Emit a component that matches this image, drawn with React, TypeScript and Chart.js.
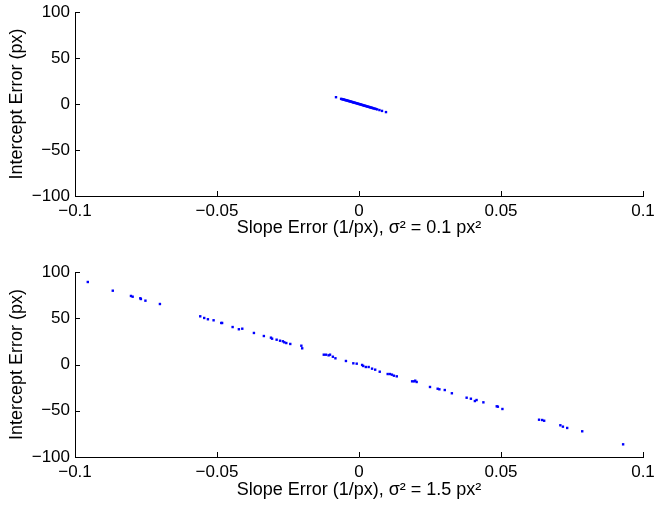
import React, { useEffect, useRef } from "react";
import { Chart, registerables } from "chart.js";

Chart.register(...registerables);

const xTicks = [-0.1, -0.05, 0, 0.05, 0.1];
const yTicks = [-100, -50, 0, 50, 100];

const topSlope = [-0.0081, -0.0063, -0.006, -0.0057, -0.0054, -0.0051, -0.0048, -0.0046, -0.0043, -0.004, -0.0037, -0.0035, -0.0032, -0.0029, -0.0026, -0.0023, -0.0021, -0.0018, -0.0015, -0.0012, -0.0009, -0.0006, -0.0003, 0.0, 0.0003, 0.0006, 0.0009, 0.0012, 0.0015, 0.0018, 0.0021, 0.0024, 0.0027, 0.003, 0.0033, 0.0036, 0.0039, 0.0042, 0.0045, 0.0048, 0.0051, 0.0055, 0.0059, 0.0064, 0.0072, 0.0081, 0.0095];
const topIntercept = [7.4, 5.6, 5.3, 5.0, 4.9, 4.6, 4.3, 4.1, 3.9, 3.6, 3.4, 3.1, 2.9, 2.6, 2.4, 2.1, 1.8, 1.6, 1.4, 1.1, 0.8, 0.6, 0.3, 0.0, -0.3, -0.5, -0.8, -1.1, -1.4, -1.7, -1.9, -2.2, -2.5, -2.8, -3.0, -3.3, -3.6, -3.9, -4.1, -4.4, -4.7, -5.0, -5.4, -5.8, -6.6, -7.5, -8.8];

const bottomSlope = [-0.0955, -0.0867, -0.0803, -0.0797, -0.077, -0.0768, -0.0752, -0.0701, -0.0559, -0.0545, -0.0532, -0.0512, -0.0485, -0.0482, -0.0445, -0.0423, -0.0411, -0.037, -0.0335, -0.031, -0.0306, -0.029, -0.0278, -0.0268, -0.0263, -0.0256, -0.0242, -0.0203, -0.02, -0.0124, -0.0116, -0.0107, -0.0102, -0.0092, -0.0083, -0.0046, -0.002, -0.0008, 0.0011, 0.0015, 0.0024, 0.0034, 0.0046, 0.0057, 0.0073, 0.0101, 0.0109, 0.0116, 0.0123, 0.0133, 0.0187, 0.0194, 0.0198, 0.0203, 0.025, 0.0277, 0.0283, 0.0302, 0.0327, 0.0379, 0.0394, 0.0408, 0.0414, 0.0438, 0.0485, 0.0489, 0.0505, 0.0634, 0.0645, 0.0652, 0.0709, 0.0718, 0.0733, 0.0786, 0.093];
const bottomIntercept = [89.2, 79.8, 74.1, 73.3, 71.6, 70.8, 69.0, 65.4, 52.1, 50.3, 48.9, 47.8, 44.9, 44.9, 40.5, 38.1, 38.7, 34.1, 30.8, 29.0, 27.9, 26.8, 25.7, 25.1, 24.0, 23.2, 22.2, 20.3, 17.5, 10.6, 10.6, 9.9, 10.6, 8.4, 6.7, 3.8, 1.3, 0.9, -0.5, -1.6, -2.7, -2.7, -4.5, -5.6, -7.8, -10.3, -10.3, -11.0, -12.1, -12.8, -18.2, -18.2, -17.5, -18.9, -24.3, -26.2, -26.8, -27.6, -31.1, -35.9, -37.0, -39.5, -38.4, -40.9, -45.2, -45.6, -48.1, -59.7, -60.0, -60.8, -65.7, -67.2, -68.6, -72.2, -86.3];

const yTitle = "Intercept Error (px)";
const topXTitle = "Slope Error (1/px), σ² = 0.1 px²";
const bottomXTitle = "Slope Error (1/px), σ² = 1.5 px²";

const FONT = "'Liberation Sans', Arial, Helvetica, sans-serif";
const TICK_SIZE = 17;
const TITLE_SIZE = 18;

function fmtX(v: number) {
  const r = Math.round(v * 100) / 100;
  if (r === 0) return "0";
  const s = String(Math.abs(r));
  return r < 0 ? "\u2212" + s : s;
}
function fmtY(v: number) {
  const r = Math.round(v);
  if (r === 0) return "0";
  return r < 0 ? "\u2212" + Math.abs(r) : String(r);
}

const inwardTicks = {
  id: "inwardTicks",
  afterDraw(chart: any) {
    const ctx = chart.ctx;
    const xs = chart.scales.x;
    const ys = chart.scales.y;
    const area = chart.chartArea;
    ctx.save();
    ctx.strokeStyle = "#000";
    ctx.lineWidth = 1;
    ctx.beginPath();
    xs.ticks.forEach((t: any) => {
      const px = Math.round(xs.getPixelForValue(t.value)) + 0.5;
      ctx.moveTo(px, area.bottom);
      ctx.lineTo(px, area.bottom - 5);
    });
    ys.ticks.forEach((t: any) => {
      const py = Math.round(ys.getPixelForValue(t.value)) + 0.5;
      ctx.moveTo(area.left, py);
      ctx.lineTo(area.left + 5, py);
    });
    ctx.stroke();
    ctx.restore();
  },
};

function makeConfig(xsArr: number[], ysArr: number[], xTitle: string, padTop: number, xAxisHeight: number, titlePadBottom: number) {
  const data = xsArr.map((x, i) => ({ x, y: ysArr[i] }));
  return {
    type: "scatter" as const,
    data: {
      datasets: [
        {
          data,
          backgroundColor: "#0000ff",
          borderWidth: 0,
          pointStyle: "rect",
          pointRadius: 1.7,
        },
      ],
    },
    plugins: [inwardTicks],
    options: {
      animation: false,
      responsive: false,
      events: [],
      layout: { padding: { top: padTop, left: 0, right: 11, bottom: 0 } },
      plugins: { legend: { display: false }, tooltip: { enabled: false } },
      scales: {
        x: {
          type: "linear",
          min: -0.1,
          max: 0.1,
          afterBuildTicks: (s: any) => {
            s.ticks = xTicks.map((v) => ({ value: v }));
          },
          afterFit: (s: any) => {
            s.height = xAxisHeight;
            s.paddingLeft = 0;
            s.paddingRight = 0;
          },
          grid: { display: true, drawOnChartArea: false, drawTicks: false },
          border: { display: true, color: "#000", width: 1 },
          ticks: {
            color: "#000",
            padding: 5,
            maxRotation: 0,
            autoSkip: false,
            font: { family: FONT, size: TICK_SIZE },
            callback: (v: any) => fmtX(Number(v)),
          },
          title: {
            display: true,
            text: xTitle,
            color: "#000",
            font: { family: FONT, size: TITLE_SIZE },
            padding: { top: 0, bottom: titlePadBottom },
          },
        },
        y: {
          type: "linear",
          min: -100,
          max: 100,
          afterBuildTicks: (s: any) => {
            s.ticks = yTicks.map((v) => ({ value: v }));
          },
          afterFit: (s: any) => {
            s.width = 75;
            s.paddingTop = 0;
            s.paddingBottom = 0;
          },
          grid: { display: true, drawOnChartArea: false, drawTicks: false },
          border: { display: true, color: "#000", width: 1 },
          ticks: {
            color: "#000",
            padding: 5,
            autoSkip: false,
            font: { family: FONT, size: TICK_SIZE },
            callback: (v: any) => fmtY(Number(v)),
          },
          title: {
            display: true,
            text: yTitle,
            color: "#000",
            font: { family: FONT, size: TITLE_SIZE },
            padding: { top: 6, bottom: 0 },
          },
        },
      },
    },
  };
}

function Panel(props: { cfg: any; top: number }) {
  const ref = useRef<HTMLCanvasElement | null>(null);
  useEffect(() => {
    if (!ref.current) return;
    const chart = new Chart(ref.current, props.cfg);
    return () => chart.destroy();
  }, []);
  return (
    <canvas
      ref={ref}
      width={654}
      height={255}
      style={{ position: "absolute", left: 0, top: props.top, width: 654, height: 255, display: "block" }}
    />
  );
}

export default function App() {
  const topCfg = makeConfig(topSlope, topIntercept, topXTitle, 12, 59, 16);
  const bottomCfg = makeConfig(bottomSlope, bottomIntercept, bottomXTitle, 17, 53, 9);
  return (
    <div style={{ position: "absolute", left: 0, top: 0, width: 654, height: 510, background: "#fff" }}>
      <Panel cfg={topCfg} top={0} />
      <Panel cfg={bottomCfg} top={255} />
    </div>
  );
}
